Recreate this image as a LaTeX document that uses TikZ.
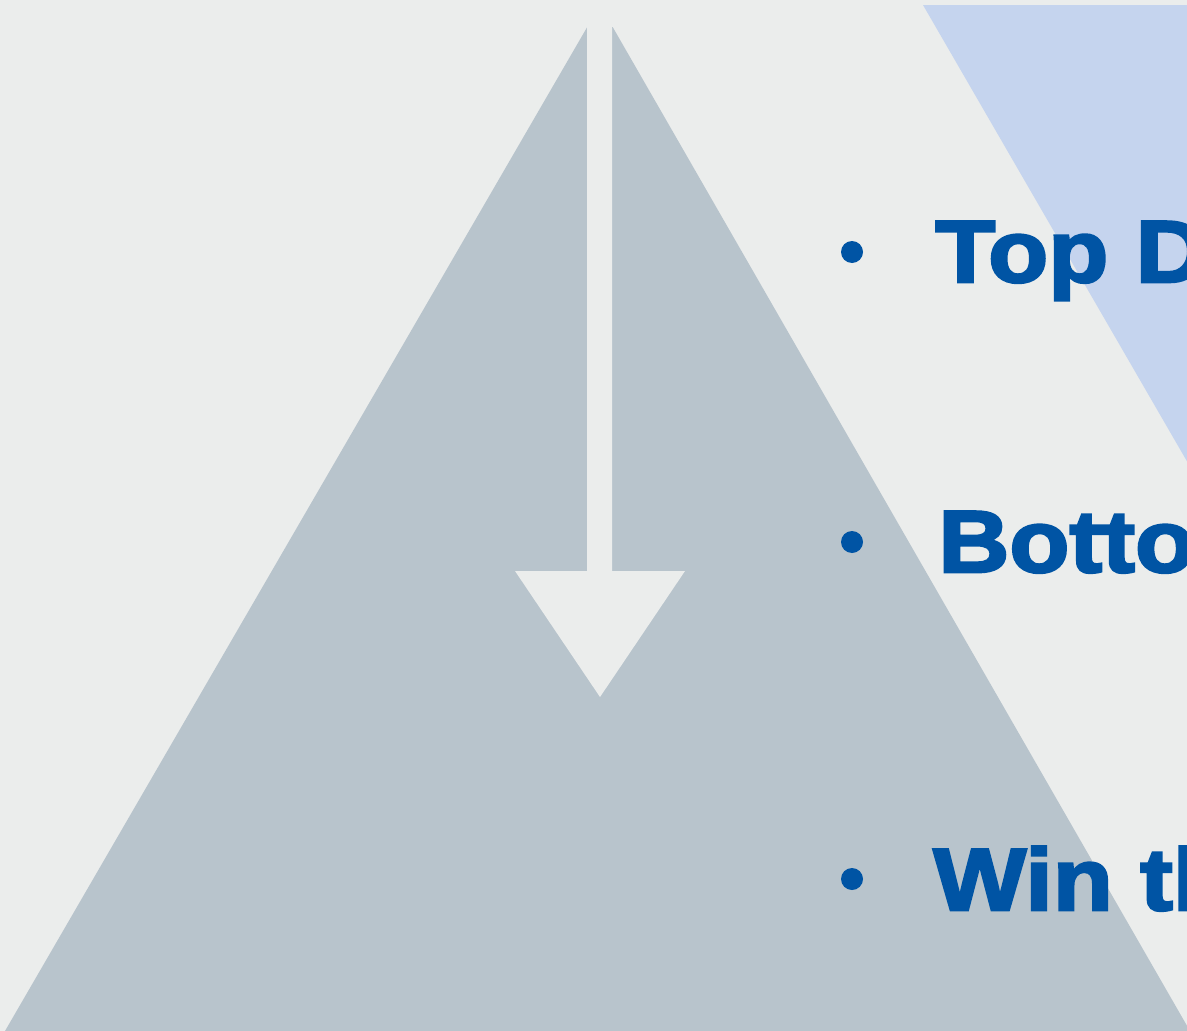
\documentclass[tikz,border=0pt]{standalone}
\usepackage{fontspec}
\setmainfont{Liberation Sans}[BoldFeatures={FakeBold=3,FakeStretch=1.12}]
\usepackage{tikz}
\usetikzlibrary{positioning, calc}
\definecolor{pagebg}{HTML}{EBEDEC}
\definecolor{pyramidgray}{HTML}{B8C4CC}
\definecolor{paleblue}{HTML}{C5D4EE}
\definecolor{deepblue}{HTML}{0054A4}

\begin{document}
\begin{tikzpicture}[x=0.02cm, y=-0.02cm,
    item/.style={anchor=base west, inner sep=0pt, text=deepblue, font=\fontsize{50}{60}\selectfont\bfseries},
    dot/.style={circle, fill=deepblue, inner sep=0pt, minimum size=0.44cm}]

    % page and clipping
    \fill[pagebg] (0,0) rectangle (1187,1031);
    \clip (0,0) rectangle (1187,1031);
    \useasboundingbox (0,0) rectangle (1187,1031);

    % pyramid and the inverted triangle
    \fill[pyramidgray] (5,1031) -- (600,5) -- (1190,1031) -- cycle;
    \fill[paleblue] (923,5) -- (1460,5) -- (1192,470) -- cycle;

    % downward arrow cut out of the pyramid
    \fill[pagebg] (587,0) -- (612,0) -- (612,571) -- (685,571)
        -- (600,697) -- (515,571) -- (587,571) -- cycle;
    \fill[pagebg] (560,0) rectangle (640,27);

    % bullets
    \node[dot] (d1) at (852,252) {};
    \node[dot] (d2) at (852,542) {};
    \node[dot] (d3) at (852,879) {};

    \node[item] (top) at (935,282) {Top D};
    \node[item] (bottom) at (938,572) {Botto};
    \node[item] (win) at (933,910) {Win th};
\end{tikzpicture}
\end{document}
